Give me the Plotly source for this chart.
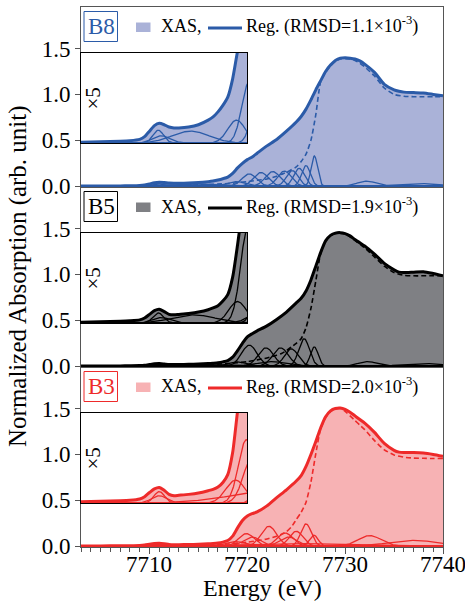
import numpy as np
import plotly.graph_objects as go

# ---------------- data ----------------
energy = [7703, 7705, 7707, 7708, 7709, 7709.5, 7710, 7710.5, 7711, 7711.5,
          7712, 7712.5, 7713, 7714, 7715, 7716, 7716.5, 7717, 7717.5, 7718,
          7718.5, 7719, 7719.5, 7720, 7720.5, 7721, 7722, 7723, 7724, 7725,
          7725.5, 7726, 7726.5, 7727, 7727.5, 7728, 7728.5, 7729, 7729.5, 7730,
          7730.5, 7731, 7731.5, 7732, 7733, 7734, 7735, 7735.5, 7736, 7737,
          7738, 7739, 7740]

xas_b8 = [0.002, 0.003, 0.004, 0.005, 0.008, 0.014, 0.026, 0.038, 0.043, 0.040,
          0.035, 0.033, 0.033, 0.035, 0.040, 0.050, 0.057, 0.068, 0.082, 0.10,
          0.14, 0.20, 0.25, 0.29, 0.32, 0.36, 0.44, 0.51, 0.60, 0.70,
          0.76, 0.84, 0.94, 1.05, 1.15, 1.25, 1.32, 1.37, 1.395, 1.40,
          1.395, 1.385, 1.365, 1.33, 1.24, 1.11, 1.05, 1.035, 1.025, 1.02,
          1.015, 1.0, 0.985]

xas_b5 = [0.002, 0.003, 0.004, 0.005, 0.007, 0.011, 0.019, 0.027, 0.030, 0.025,
          0.019, 0.018, 0.019, 0.021, 0.024, 0.029, 0.033, 0.038, 0.048, 0.062,
          0.10, 0.17, 0.25, 0.32, 0.355, 0.385, 0.44, 0.51, 0.59, 0.69,
          0.74, 0.82, 0.94, 1.09, 1.24, 1.365, 1.425, 1.45, 1.455, 1.445,
          1.42, 1.38, 1.345, 1.31, 1.22, 1.12, 1.05, 1.025, 1.02, 1.025,
          1.03, 1.01, 0.985]

xas_b3 = [0.003, 0.004, 0.005, 0.006, 0.009, 0.014, 0.023, 0.031, 0.034, 0.028,
          0.019, 0.016, 0.017, 0.019, 0.022, 0.027, 0.030, 0.035, 0.045, 0.062,
          0.11, 0.20, 0.28, 0.33, 0.355, 0.375, 0.44, 0.53, 0.615, 0.71,
          0.77, 0.87, 1.00, 1.14, 1.29, 1.41, 1.475, 1.50, 1.505, 1.49,
          1.46, 1.42, 1.38, 1.34, 1.24, 1.12, 1.045, 1.025, 1.02, 1.02,
          1.015, 1.0, 0.98]

edge_energy = [7703, 7710, 7715, 7718, 7720, 7721, 7722, 7723, 7723.5, 7724,
               7724.5, 7725, 7725.5, 7726, 7726.5, 7727, 7727.5, 7728, 7728.5, 7729,
               7729.5, 7730, 7730.5, 7731, 7731.5, 7732, 7733, 7734, 7735, 7736,
               7737, 7738, 7739, 7740]

edge_b8 = [0.0, 0.005, 0.015, 0.03, 0.05, 0.065, 0.08, 0.11, 0.13, 0.15,
           0.18, 0.21, 0.27, 0.35, 0.50, 0.78, 1.14, 1.24, 1.31, 1.36,
           1.385, 1.39, 1.385, 1.37, 1.34, 1.30, 1.20, 1.07, 1.0, 0.98,
           0.975, 0.975, 0.975, 0.975]

edge_b5 = [0.0, 0.004, 0.012, 0.03, 0.05, 0.07, 0.09, 0.12, 0.14, 0.17,
           0.21, 0.25, 0.30, 0.42, 0.63, 0.93, 1.23, 1.36, 1.42, 1.445,
           1.45, 1.44, 1.41, 1.37, 1.33, 1.29, 1.19, 1.09, 1.02, 0.99,
           0.985, 0.985, 0.985, 0.985]

edge_b3 = [0.005, 0.007, 0.012, 0.025, 0.045, 0.06, 0.08, 0.11, 0.13, 0.16,
           0.21, 0.29, 0.37, 0.48, 0.70, 1.01, 1.28, 1.40, 1.465, 1.495,
           1.50, 1.47, 1.42, 1.37, 1.32, 1.27, 1.15, 1.05, 0.995, 0.97,
           0.96, 0.958, 0.955, 0.955]

# fitted peak components: centre (eV), height, width (eV)
comp_b8_center = [7710.9, 7711.2, 7714.2, 7718.9, 7720.2, 7721.4, 7722.6, 7723.8,
                  7724.6, 7725.3, 7726.0, 7726.85, 7732.2, 7737.5]
comp_b8_height = [0.028, 0.016, 0.026, 0.05, 0.134, 0.15, 0.16, 0.165,
                  0.17, 0.195, 0.225, 0.33, 0.055, 0.03]
comp_b8_width = [0.55, 0.9, 1.9, 0.9, 0.75, 0.75, 0.75, 0.7,
                 0.6, 0.55, 0.45, 0.33, 1.0, 2.0]

comp_b5_center = [7710.9, 7711.2, 7714.5, 7719.0, 7720.2, 7721.9, 7722.5, 7723.4,
                  7724.5, 7725.8, 7726.85, 7732.3, 7738.0]
comp_b5_height = [0.022, 0.012, 0.018, 0.047, 0.23, 0.2, 0.05, 0.2,
                  0.19, 0.3, 0.21, 0.05, 0.03]
comp_b5_width = [0.55, 0.9, 2.2, 0.9, 0.8, 0.8, 1.5, 0.8,
                 0.7, 0.55, 0.4, 1.0, 2.0]

comp_b3_center = [7711.0, 7711.0, 7724.0, 7718.8, 7719.9, 7720.5, 7722.2, 7723.85,
                  7724.2, 7725.0, 7726.0, 7726.8, 7732.5, 7737.0]
comp_b3_height = [0.025, 0.016, 0.03, 0.05, 0.138, 0.1, 0.217, 0.145,
                  0.1, 0.163, 0.243, 0.12, 0.116, 0.065]
comp_b3_width = [0.55, 0.8, 5.0, 1.0, 0.8, 0.9, 0.8, 0.8,
                 0.9, 0.7, 0.55, 0.45, 1.2, 2.5]

sample_names = ["B8", "B5", "B3"]
rmsd_values = ["1.1", "1.9", "2.0"]
x_tick_values = [7710, 7720, 7730, 7740]
y_tick_values = [0.0, 0.5, 1.0, 1.5]
inset_scale = 5

# ---------------- styles ----------------
line_colors = ["#2B5BA8", "#000000", "#EE2A2A"]
fill_colors = ["#AAB2D8", "#7F8084", "#F7B2B4"]
FONT = "Liberation Serif"
AX = "#555555"

W, H = 465, 601
ML, MR, MT, MB = 81, 22, 7, 54
PW, PH = W - ML - MR, H - MT - MB
XMIN, XMAX = 7703, 7740
YMIN, YMAX = -0.008, 1.952
INSET_XMAX = 7720
INSET_YLO, INSET_YHI = 0.47, 1.45


def px(x):
    return (x - ML) / PW


def py(y):
    return 1 - (y - MT) / PH


xas_all = [xas_b8, xas_b5, xas_b3]
edge_all = [edge_b8, edge_b5, edge_b3]
comps_all = [(comp_b8_center, comp_b8_height, comp_b8_width),
             (comp_b5_center, comp_b5_height, comp_b5_width),
             (comp_b3_center, comp_b3_height, comp_b3_width)]

grid = np.linspace(XMIN, XMAX, 741)
inset_mask = grid <= INSET_XMAX + 0.2
e_arr = np.array(energy)
e_in = e_arr <= INSET_XMAX + 1.0

fig = go.Figure()
shapes = []
annotations = []
layout_axes = {}
SPL = dict(shape="spline", smoothing=0.6)

for k in range(3):
    main_n = 3 - k
    ins_n = 4 + k
    mx = "x" if main_n == 1 else f"x{main_n}"
    my = "y" if main_n == 1 else f"y{main_n}"
    ix, iy = f"x{ins_n}", f"y{ins_n}"
    lc, fc = line_colors[k], fill_colors[k]
    xas = xas_all[k]
    edge = edge_all[k]
    cen, hei, wid = comps_all[k]

    fig.add_trace(go.Scatter(x=energy, y=xas, xaxis=mx, yaxis=my, mode="lines",
                             line=dict(width=0, **SPL),
                             fill="tozeroy", fillcolor=fc, hoverinfo="skip", showlegend=False))
    fig.add_trace(go.Scatter(x=edge_energy, y=edge, xaxis=mx, yaxis=my, mode="lines",
                             line=dict(color=lc, width=1.6, dash="5px,3px", **SPL),
                             showlegend=False))
    comp_curves = []
    for c, h, w in zip(cen, hei, wid):
        g = h * np.exp(-0.5 * ((grid - c) / w) ** 2)
        comp_curves.append(g)
        fig.add_trace(go.Scatter(x=grid, y=g, xaxis=mx, yaxis=my, mode="lines",
                                 line=dict(color=lc, width=1.3), showlegend=False))
    fig.add_trace(go.Scatter(x=energy, y=xas, xaxis=mx, yaxis=my, mode="lines",
                             line=dict(color=lc, width=3, **SPL),
                             showlegend=False))

    xs_in = [e for e, m in zip(energy, e_in) if m]
    ys_in = [inset_scale * v for v, m in zip(xas, e_in) if m]
    fig.add_trace(go.Scatter(x=xs_in, y=ys_in, xaxis=ix, yaxis=iy, mode="lines",
                             line=dict(width=0, **SPL),
                             fill="tozeroy", fillcolor=fc, showlegend=False))
    for g in comp_curves:
        fig.add_trace(go.Scatter(x=grid[inset_mask], y=inset_scale * g[inset_mask],
                                 xaxis=ix, yaxis=iy, mode="lines",
                                 line=dict(color=lc, width=1.3), showlegend=False))
    fig.add_trace(go.Scatter(x=xs_in, y=ys_in, xaxis=ix, yaxis=iy, mode="lines",
                             line=dict(color=lc, width=3, **SPL),
                             showlegend=False))

    d_top = 1 - k / 3
    d_bot = 1 - (k + 1) / 3
    span = YMAX - YMIN
    layout_axes[("xaxis" if main_n == 1 else f"xaxis{main_n}")] = dict(
        domain=[0, 1], range=[XMIN, XMAX], anchor=my,
        showline=True, mirror=True, linecolor=AX, linewidth=1,
        showgrid=False, zeroline=False, showticklabels=False,
        **({} if main_n == 1 else dict(matches="x", ticks="")))
    layout_axes[("yaxis" if main_n == 1 else f"yaxis{main_n}")] = dict(
        domain=[d_bot, d_top], range=[YMIN, YMAX], anchor=mx,
        tickmode="array", tickvals=y_tick_values,
        ticktext=[f"{v:.1f}" for v in y_tick_values],
        ticks="outside", ticklen=5, tickcolor=AX,
        tickfont=dict(family=FONT, size=23, color="black"),
        showline=True, mirror=True, linecolor=AX, linewidth=1,
        showgrid=False, zeroline=False)
    ib = d_bot + (INSET_YLO - YMIN) / span * (1 / 3)
    it = d_bot + (INSET_YHI - YMIN) / span * (1 / 3)
    layout_axes[f"xaxis{ins_n}"] = dict(
        domain=[0, (INSET_XMAX - XMIN) / (XMAX - XMIN)], range=[XMIN, INSET_XMAX], anchor=iy,
        showline=True, mirror=True, linecolor="black", linewidth=1.3,
        showticklabels=False, ticks="", showgrid=False, zeroline=False)
    layout_axes[f"yaxis{ins_n}"] = dict(
        domain=[ib, it], range=[0, (INSET_YHI - INSET_YLO)], anchor=ix,
        showline=True, mirror=True, linecolor="black", linewidth=1.3,
        showticklabels=False, ticks="", showgrid=False, zeroline=False)

    T = MT + k * PH / 3
    shapes.append(dict(type="rect", xref="paper", yref="paper",
                       x0=px(84), x1=px(117.5), y0=py(T + 34.5), y1=py(T + 4.5),
                       line=dict(color=lc, width=1), fillcolor="white"))
    annotations.append(dict(text=sample_names[k], x=px(101), y=py(T + 19.5), xref="paper", yref="paper",
                            showarrow=False, font=dict(family=FONT, size=23, color=lc),
                            xanchor="center", yanchor="middle"))
    shapes.append(dict(type="rect", xref="paper", yref="paper",
                       x0=px(136), x1=px(150.5), y0=py(T + 25), y1=py(T + 15.5),
                       line=dict(width=0), fillcolor=fc))
    annotations.append(dict(text="XAS,", x=px(159), y=py(T + 19.5), xref="paper", yref="paper",
                            showarrow=False, font=dict(family=FONT, size=18, color="black"),
                            xanchor="left", yanchor="middle"))
    shapes.append(dict(type="line", xref="paper", yref="paper",
                       x0=px(208), x1=px(242), y0=py(T + 21), y1=py(T + 21),
                       line=dict(color=lc, width=3)))
    annotations.append(dict(text=f"Reg. (RMSD={rmsd_values[k]}×10<sup>-3</sup>)",
                            x=px(244), y=py(T + 18.5), xref="paper", yref="paper",
                            showarrow=False, font=dict(family=FONT, size=18, color="black"),
                            xanchor="left", yanchor="middle"))
    annotations.append(dict(text="×5", x=px(92.5), y=py(T + 92), xref="paper", yref="paper",
                            showarrow=False, textangle=-90,
                            font=dict(family=FONT, size=21, color="black"),
                            xanchor="center", yanchor="middle"))

layout_axes["xaxis"].update(dict(
    tickmode="array", tickvals=x_tick_values, ticks="outside", ticklen=6, tickcolor=AX,
    minor=dict(dtick=1, tick0=7703, ticks="outside", ticklen=4, tickcolor=AX)))

for v in x_tick_values:
    annotations.append(dict(text=str(v), x=v, xref="x", y=py(564), yref="paper",
                            showarrow=False, font=dict(family=FONT, size=23, color="black"),
                            xanchor="center", yanchor="middle"))

annotations.append(dict(text="Energy (eV)", x=px(262), y=py(588), xref="paper", yref="paper",
                        showarrow=False, font=dict(family=FONT, size=24, color="black"),
                        xanchor="center", yanchor="middle"))
annotations.append(dict(text="Normalized Absorption (arb. unit)", x=px(18), y=py(276),
                        xref="paper", yref="paper", showarrow=False, textangle=-90,
                        font=dict(family=FONT, size=25, color="black"),
                        xanchor="center", yanchor="middle"))

fig.update_layout(width=W, height=H, margin=dict(l=ML, r=MR, t=MT, b=MB),
                  plot_bgcolor="white", paper_bgcolor="white", showlegend=False,
                  font=dict(family=FONT),
                  shapes=shapes, annotations=annotations, **layout_axes)

fig.write_html("out.html")
